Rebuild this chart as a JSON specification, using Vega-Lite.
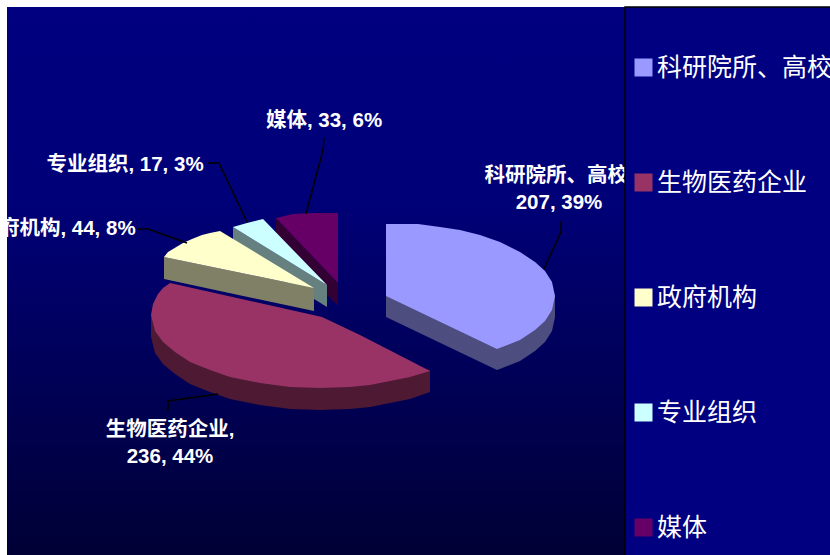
{"$schema":"https://vega.github.io/schema/vega-lite/v6.json","width":823,"height":548,"autosize":{"type":"none"},"padding":{"left":7,"top":7,"right":0,"bottom":0},"background":"white","view":{"stroke":null,"fill":{"gradient":"linear","x1":0,"y1":0,"x2":0,"y2":1,"stops":[{"offset":0,"color":"#000080"},{"offset":0.35,"color":"#000078"},{"offset":1,"color":"#000036"}]}},"config":{"font":"Liberation Sans"},"datasets":{"shapes":[
{"k":"媒体 side","o":1,"x":276,"y":218},{"k":"媒体 side","o":2,"x":338,"y":283},{"k":"媒体 side","o":3,"x":338,"y":306},{"k":"媒体 side","o":4,"x":276,"y":241},
{"k":"专业组织 side","o":1,"x":233,"y":227},{"k":"专业组织 side","o":2,"x":327,"y":285},{"k":"专业组织 side","o":3,"x":327,"y":307},{"k":"专业组织 side","o":4,"x":233,"y":249},
{"k":"政府机构 side","o":1,"x":164,"y":257},{"k":"政府机构 side","o":2,"x":314,"y":288},{"k":"政府机构 side","o":3,"x":314,"y":311},{"k":"政府机构 side","o":4,"x":164,"y":279},
{"k":"生物医药企业 side","o":1,"x":430,"y":370},{"k":"生物医药企业 side","o":2,"x":430,"y":392},{"k":"生物医药企业 side","o":3,"x":410,"y":399},{"k":"生物医药企业 side","o":4,"x":390,"y":403},{"k":"生物医药企业 side","o":5,"x":370,"y":407},{"k":"生物医药企业 side","o":6,"x":350,"y":409},{"k":"生物医药企业 side","o":7,"x":320,"y":410},{"k":"生物医药企业 side","o":8,"x":290,"y":409},{"k":"生物医药企业 side","o":9,"x":260,"y":405},{"k":"生物医药企业 side","o":10,"x":230,"y":399},{"k":"生物医药企业 side","o":11,"x":210,"y":392},{"k":"生物医药企业 side","o":12,"x":190,"y":384},{"k":"生物医药企业 side","o":13,"x":175,"y":374},{"k":"生物医药企业 side","o":14,"x":163,"y":364},{"k":"生物医药企业 side","o":15,"x":155,"y":353},{"k":"生物医药企业 side","o":16,"x":151,"y":337},{"k":"生物医药企业 side","o":17,"x":151,"y":315},
{"k":"科研院所、高校 side","o":1,"x":386,"y":296},{"k":"科研院所、高校 side","o":2,"x":386,"y":317},{"k":"科研院所、高校 side","o":3,"x":497,"y":370},{"k":"科研院所、高校 side","o":4,"x":520,"y":361},{"k":"科研院所、高校 side","o":5,"x":535,"y":351},{"k":"科研院所、高校 side","o":6,"x":545,"y":342},{"k":"科研院所、高校 side","o":7,"x":552,"y":331},{"k":"科研院所、高校 side","o":8,"x":555,"y":317},{"k":"科研院所、高校 side","o":9,"x":555,"y":296},
{"k":"媒体","o":1,"x":276,"y":218},{"k":"媒体","o":2,"x":293,"y":214},{"k":"媒体","o":3,"x":313,"y":213},{"k":"媒体","o":4,"x":338,"y":213},{"k":"媒体","o":5,"x":338,"y":283},
{"k":"专业组织","o":1,"x":233,"y":227},{"k":"专业组织","o":2,"x":247,"y":223},{"k":"专业组织","o":3,"x":263,"y":219},{"k":"专业组织","o":4,"x":327,"y":285},
{"k":"政府机构","o":1,"x":164,"y":257},{"k":"政府机构","o":2,"x":168,"y":252},{"k":"政府机构","o":3,"x":183,"y":243},{"k":"政府机构","o":4,"x":192,"y":239},{"k":"政府机构","o":5,"x":202,"y":235},{"k":"政府机构","o":6,"x":210,"y":233},{"k":"政府机构","o":7,"x":220,"y":231},{"k":"政府机构","o":8,"x":314,"y":288},
{"k":"生物医药企业","o":1,"x":170,"y":283},{"k":"生物医药企业","o":2,"x":322,"y":317},{"k":"生物医药企业","o":3,"x":360,"y":335},{"k":"生物医药企业","o":4,"x":430,"y":371},{"k":"生物医药企业","o":5,"x":410,"y":377},{"k":"生物医药企业","o":6,"x":390,"y":381},{"k":"生物医药企业","o":7,"x":370,"y":385},{"k":"生物医药企业","o":8,"x":350,"y":387},{"k":"生物医药企业","o":9,"x":320,"y":388},{"k":"生物医药企业","o":10,"x":290,"y":387},{"k":"生物医药企业","o":11,"x":260,"y":383},{"k":"生物医药企业","o":12,"x":230,"y":377},{"k":"生物医药企业","o":13,"x":210,"y":370},{"k":"生物医药企业","o":14,"x":190,"y":362},{"k":"生物医药企业","o":15,"x":175,"y":352},{"k":"生物医药企业","o":16,"x":163,"y":342},{"k":"生物医药企业","o":17,"x":155,"y":331},{"k":"生物医药企业","o":18,"x":151,"y":315},{"k":"生物医药企业","o":19,"x":153,"y":304},{"k":"生物医药企业","o":20,"x":158,"y":294},{"k":"生物医药企业","o":21,"x":163,"y":288},
{"k":"科研院所、高校","o":1,"x":386,"y":296},{"k":"科研院所、高校","o":2,"x":386,"y":224},{"k":"科研院所、高校","o":3,"x":418,"y":224},{"k":"科研院所、高校","o":4,"x":440,"y":227},{"k":"科研院所、高校","o":5,"x":460,"y":230},{"k":"科研院所、高校","o":6,"x":480,"y":235},{"k":"科研院所、高校","o":7,"x":500,"y":242},{"k":"科研院所、高校","o":8,"x":520,"y":252},{"k":"科研院所、高校","o":9,"x":535,"y":262},{"k":"科研院所、高校","o":10,"x":545,"y":271},{"k":"科研院所、高校","o":11,"x":552,"y":282},{"k":"科研院所、高校","o":12,"x":555,"y":296},{"k":"科研院所、高校","o":13,"x":552,"y":310},{"k":"科研院所、高校","o":14,"x":545,"y":321},{"k":"科研院所、高校","o":15,"x":535,"y":330},{"k":"科研院所、高校","o":16,"x":520,"y":340},{"k":"科研院所、高校","o":17,"x":497,"y":349}
],"leaders":[
{"l":"a","o":1,"x":561,"y":221},{"l":"a","o":2,"x":561,"y":232},{"l":"a","o":3,"x":544,"y":269},
{"l":"b","o":1,"x":168,"y":411},{"l":"b","o":2,"x":168,"y":401},{"l":"b","o":3,"x":218,"y":394},
{"l":"c","o":1,"x":138,"y":229},{"l":"c","o":2,"x":148,"y":229},{"l":"c","o":3,"x":187,"y":243},
{"l":"d","o":1,"x":208,"y":163},{"l":"d","o":2,"x":219,"y":163},{"l":"d","o":3,"x":247,"y":222},
{"l":"e","o":1,"x":324,"y":138},{"l":"e","o":2,"x":323,"y":150},{"l":"e","o":3,"x":306,"y":214}
],"labels":[
{"t":"科研院所、高校,\n207, 39%","x":559,"y":176},
{"t":"生物医药企业,\n236, 44%","x":170,"y":430},
{"t":"政府机构, 44, 8%","x":57,"y":229},
{"t":"专业组织, 17, 3%","x":125,"y":165},
{"t":"媒体, 33, 6%","x":324,"y":121}
],"panel":[{"x":625,"x2":832,"y":7,"y2":556}]},
"layer":[
{"data":{"name":"shapes"},"mark":{"type":"line","interpolate":"linear","strokeWidth":0},"encoding":{
"x":{"field":"x","type":"quantitative","axis":null,"scale":{"domain":[7,830],"nice":false,"zero":false}},
"y":{"field":"y","type":"quantitative","axis":null,"scale":{"domain":[555,7],"nice":false,"zero":false}},
"order":{"field":"o","type":"quantitative"},
"fill":{"field":"k","type":"nominal","sort":null,"scale":{"domain":["科研院所、高校","生物医药企业","政府机构","专业组织","媒体","科研院所、高校 side","生物医药企业 side","政府机构 side","专业组织 side","媒体 side"],"range":["#9999ff","#993366","#ffffcc","#ccffff","#660066","#4d4d80","#4d1933","#808066","#668080","#330033"]},
"legend":{"values":["科研院所、高校","生物医药企业","政府机构","专业组织","媒体"],"title":null,"orient":"none","legendX":624,"legendY":48,"padding":0,"symbolType":"square","symbolSize":324,"symbolStrokeWidth":0,"labelFont":"Liberation Sans, Noto Sans CJK SC","labelFontSize":25,"labelColor":"white","labelLimit":400,"labelOffset":1,"rowPadding":89,"zindex":1}}}},
{"data":{"name":"leaders"},"mark":{"type":"line","color":"black","strokeWidth":1.5},"encoding":{"x":{"field":"x","type":"quantitative"},"y":{"field":"y","type":"quantitative"},"detail":{"field":"l"},"order":{"field":"o","type":"quantitative"}}},
{"data":{"name":"labels"},"mark":{"type":"text","clip":true,"color":"white","font":"Liberation Sans, Noto Sans CJK SC","fontSize":20.5,"fontWeight":"bold","align":"center","baseline":"middle","lineBreak":"\n","lineHeight":27},"encoding":{"x":{"field":"x","type":"quantitative"},"y":{"field":"y","type":"quantitative"},"text":{"field":"t"}}},
{"data":{"name":"panel"},"mark":{"type":"rect","fill":"#000080","stroke":"black","strokeWidth":1.5,"clip":false},"encoding":{"x":{"field":"x","type":"quantitative"},"x2":{"field":"x2"},"y":{"field":"y","type":"quantitative"},"y2":{"field":"y2"}}}
]}
